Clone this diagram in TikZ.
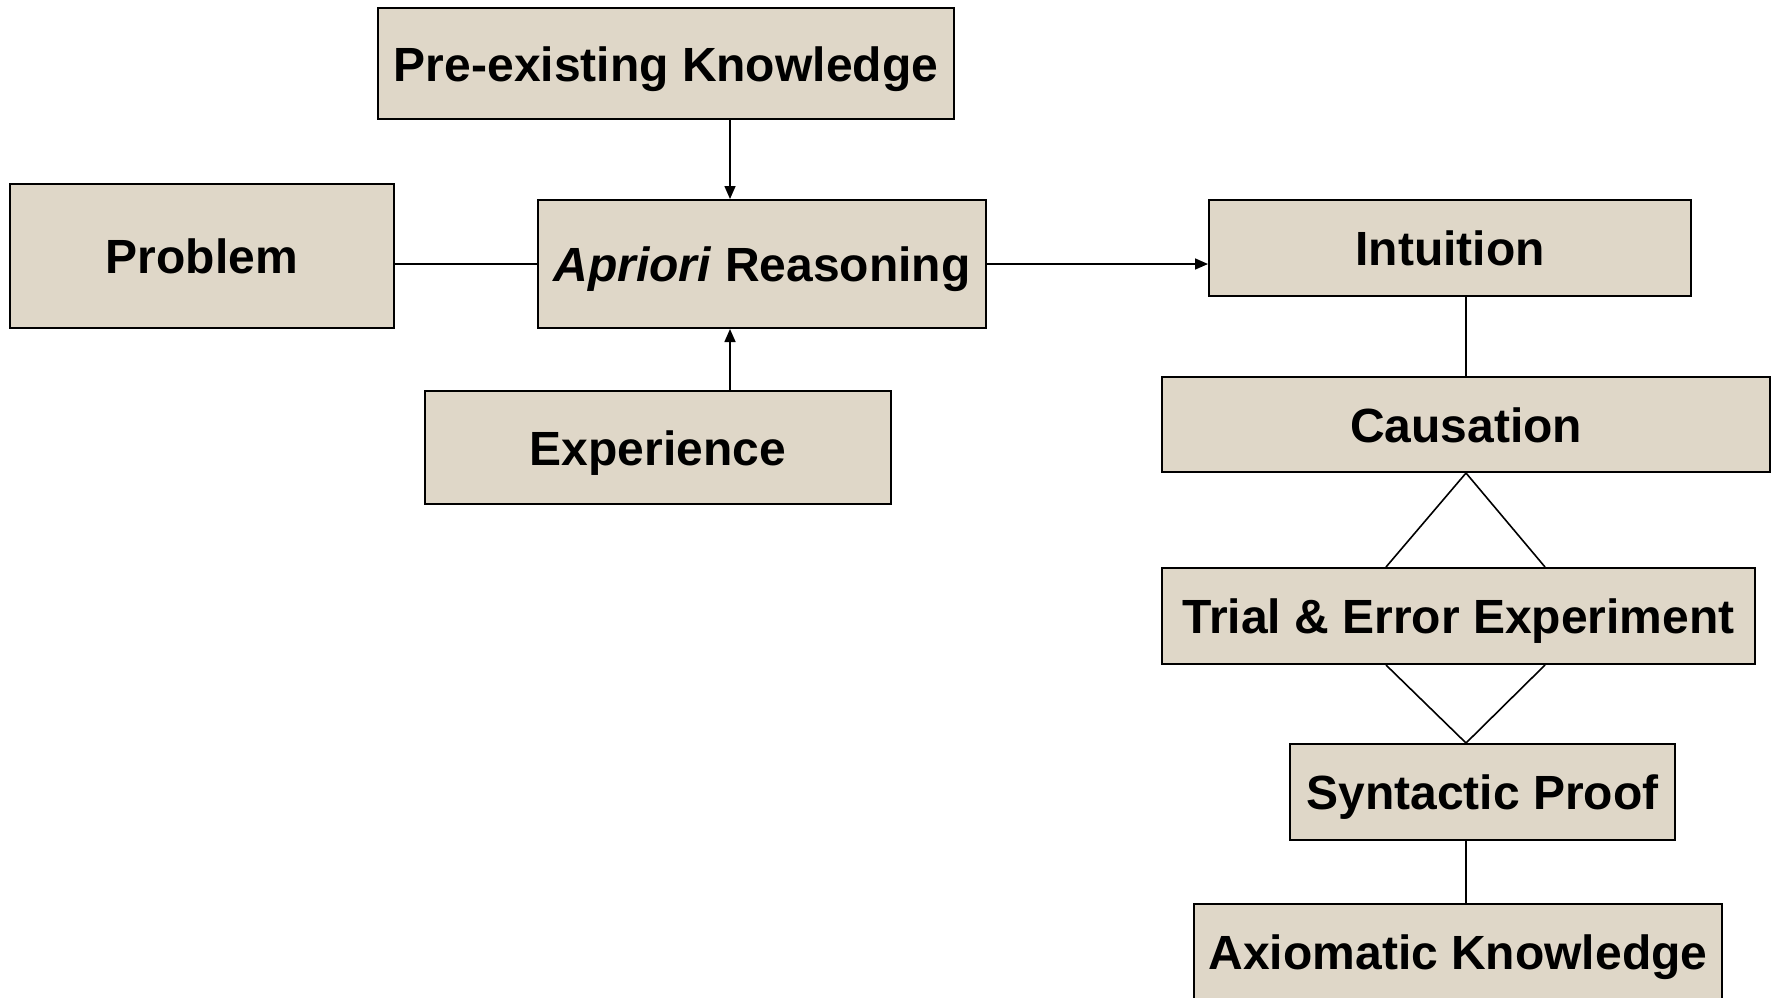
\documentclass[tikz,border=0pt]{standalone}
\usepackage{fontspec}
\setmainfont{Liberation Sans}
\usetikzlibrary{arrows.meta}
\definecolor{boxfill}{RGB}{223,215,200}
\tikzset{
  box/.style={draw=black, line width=2pt, fill=boxfill, rectangle, inner sep=0pt,
    font=\fontsize{48}{56}\selectfont\bfseries, text height=35pt, text depth=0pt},
  conn/.style={draw=black, line width=1.6pt},
  arr/.style={conn, -{Triangle[length=13pt,width=11pt]}}
}
\begin{document}
\begin{tikzpicture}[x=1pt,y=-1pt]
\useasboundingbox (0,0) rectangle (1779,997);
\node[box, minimum width=576pt, minimum height=111pt] (pre) at (666,63.5) {Pre-existing Knowledge};
\node[box, minimum width=384pt, minimum height=144pt] (prob) at (202,256) {Problem};
\node[box, minimum width=448pt, minimum height=128pt] (apr) at (762,264) {\textit{Apriori} Reasoning};
\node[box, minimum width=466pt, minimum height=113pt] (exp) at (658,447.5) {Experience};
\node[box, minimum width=482pt, minimum height=96pt] (int) at (1450,248) {Intuition};
\node[box, minimum width=608pt, minimum height=95pt] (cau) at (1466,424.5) {Causation};
\node[box, minimum width=593pt, minimum height=96pt] (tri) at (1458.5,616) {Trial \& Error Experiment};
\node[box, minimum width=385pt, minimum height=96pt] (syn) at (1482.5,792) {Syntactic Proof};
\node[box, minimum width=528pt, minimum height=96pt] (axi) at (1458,952) {Axiomatic Knowledge};
\coordinate (px) at (730,0);
\coordinate (dl) at (1386,0);
\coordinate (dr) at (1545,0);
\draw[arr] (pre.south -| px) -- (apr.north -| px);
\draw[arr] (exp.north -| px) -- (apr.south -| px);
\draw[conn] (prob.east |- apr.west) -- (apr.west);
\draw[arr] (apr.east) -- (apr.east -| int.west);
\draw[conn] (int.south -| cau.north) -- (cau.north);
\draw[conn] (tri.north -| dl) -- (cau.south) -- (tri.north -| dr);
\draw[conn] (tri.south -| dl) -- (syn.north -| cau.south) -- (tri.south -| dr);
\draw[conn] (syn.south -| cau.south) -- (axi.north -| cau.south);
\end{tikzpicture}
\end{document}
